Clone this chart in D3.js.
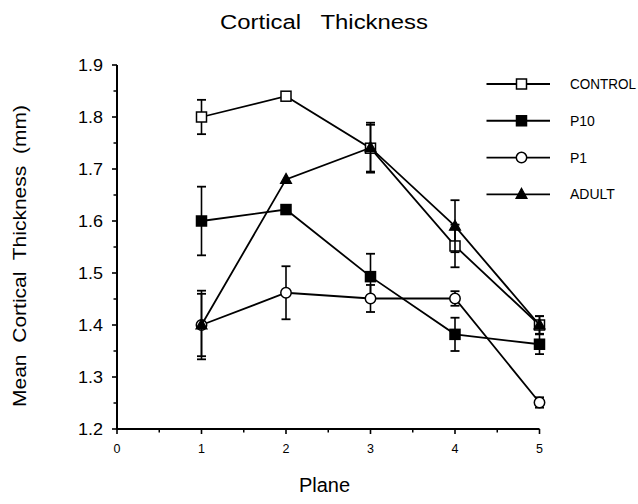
<!DOCTYPE html>
<html>
<head>
<meta charset="utf-8">
<script src="https://cdn.jsdelivr.net/npm/d3@7"></script>
<style>
  html, body { margin: 0; padding: 0; background: #fff; }
  svg { display: block; }
  text { font-family: "Liberation Sans", Arial, Helvetica, sans-serif; fill: #000; white-space: pre; }
</style>
</head>
<body>
<svg id="chart" width="638" height="504" xml:space="preserve"></svg>
<script>
// ---- data ----
const planes = [1, 2, 3, 4, 5];
const seriesNames = ["CONTROL", "P10", "P1", "ADULT"];
const controlValues = [1.80, 1.84, 1.74, 1.552, 1.40];
const controlErrors = [0.033, 0, 0.045, 0.041, 0.017];
const p10Values = [1.60, 1.622, 1.493, 1.382, 1.363];
const p10Errors = [0.066, 0, 0.044, 0.032, 0.019];
const p1Values = [1.40, 1.462, 1.451, 1.451, 1.251];
const p1Errors = [0.06, 0.051, 0.026, 0.014, 0.01];
const adultValues = [1.40, 1.68, 1.741, 1.59, 1.40];
const adultErrors = [0.066, 0, 0.048, 0.05, 0.017];
const xTicks = [0, 1, 2, 3, 4, 5];
const yTicks = [1.2, 1.3, 1.4, 1.5, 1.6, 1.7, 1.8, 1.9];
const titleText = "Cortical   Thickness";
const xLabelText = "Plane";
const yLabelText = "Mean  Cortical  Thickness  (mm)";

const series = [
  { name: seriesNames[0], values: controlValues, errors: controlErrors, shape: "square", filled: false },
  { name: seriesNames[1], values: p10Values, errors: p10Errors, shape: "square", filled: true },
  { name: seriesNames[2], values: p1Values, errors: p1Errors, shape: "circle", filled: false },
  { name: seriesNames[3], values: adultValues, errors: adultErrors, shape: "triangle", filled: true }
];

const svg = d3.select("#chart");
const x = d3.scaleLinear().domain([0, 5]).range([117, 539.5]);
const y = d3.scaleLinear().domain([1.2, 1.9]).range([429, 65]);

// ---- axes ----
const yMinor = d3.range(1.25, 1.9, 0.1);
const xMinor = d3.range(0.5, 5, 1);

const gy = svg.append("g").attr("transform", `translate(${x(0)},0)`);
gy.append("line").attr("x1", 0).attr("x2", 0).attr("y1", y(1.2)).attr("y2", y(1.9))
  .attr("stroke", "#000").attr("stroke-width", 2);
gy.selectAll("line.maj").data(yTicks).join("line").attr("class", "maj")
  .attr("x1", -5).attr("x2", 0).attr("y1", d => y(d)).attr("y2", d => y(d))
  .attr("stroke", "#000").attr("stroke-width", 1.6);
gy.selectAll("line.min").data(yMinor).join("line").attr("class", "min")
  .attr("x1", -3.5).attr("x2", 0).attr("y1", d => y(d)).attr("y2", d => y(d))
  .attr("stroke", "#000").attr("stroke-width", 1.5);
gy.selectAll("text").data(yTicks).join("text")
  .attr("x", -14).attr("y", d => y(d)).attr("dy", "0.38em")
  .attr("text-anchor", "end").attr("font-size", 17)
  .attr("textLength", 25).attr("lengthAdjust", "spacingAndGlyphs")
  .text(d => d.toFixed(1));

const gx = svg.append("g").attr("transform", `translate(0,${y(1.2)})`);
gx.append("line").attr("x1", x(0)).attr("x2", x(5)).attr("y1", 0).attr("y2", 0)
  .attr("stroke", "#000").attr("stroke-width", 2);
gx.selectAll("line.maj").data(xTicks).join("line").attr("class", "maj")
  .attr("x1", d => x(d)).attr("x2", d => x(d)).attr("y1", 0).attr("y2", 5)
  .attr("stroke", "#000").attr("stroke-width", 1.6);
gx.selectAll("line.min").data(xMinor).join("line").attr("class", "min")
  .attr("x1", d => x(d)).attr("x2", d => x(d)).attr("y1", 0).attr("y2", 3.5)
  .attr("stroke", "#000").attr("stroke-width", 1.5);
gx.selectAll("text").data(xTicks).join("text")
  .attr("x", d => x(d)).attr("y", 24)
  .attr("text-anchor", "middle").attr("font-size", 12.5)
  .text(d => d);

// ---- titles ----
svg.append("text").attr("x", 220).attr("y", 28.5)
  .attr("font-size", 20).attr("textLength", 208).attr("lengthAdjust", "spacingAndGlyphs")
  .text(titleText);
svg.append("text").attr("x", 324.5).attr("y", 492)
  .attr("text-anchor", "middle").attr("font-size", 20)
  .text(xLabelText);
svg.append("text").attr("transform", "translate(26,407) rotate(-90)")
  .attr("x", 0).attr("y", 0)
  .attr("font-size", 18.5).attr("textLength", 302).attr("lengthAdjust", "spacingAndGlyphs")
  .text(yLabelText);

// ---- markers ----
function drawMarker(g, s, cx, cy) {
  const fill = s.filled ? "#000" : "#fff";
  if (s.shape === "square") {
    g.append("rect").attr("x", cx - 5).attr("y", cy - 5).attr("width", 10).attr("height", 10)
      .attr("fill", fill).attr("stroke", "#000").attr("stroke-width", 1.5);
  } else if (s.shape === "circle") {
    g.append("circle").attr("cx", cx).attr("cy", cy).attr("r", 5.2)
      .attr("fill", fill).attr("stroke", "#000").attr("stroke-width", 1.5);
  } else {
    g.append("path")
      .attr("d", `M${cx},${cy - 6}L${cx + 5.5},${cy + 4}L${cx - 5.5},${cy + 4}Z`)
      .attr("fill", fill).attr("stroke", "#000").attr("stroke-width", 1.2);
  }
}

const line = d3.line().x(d => x(d.p)).y(d => y(d.v));

series.forEach(s => {
  const pts = planes.map((p, i) => ({ p, v: s.values[i], e: s.errors[i] }));
  const g = svg.append("g");
  // error bars
  pts.filter(d => d.e > 0).forEach(d => {
    const cx = x(d.p), yt = y(d.v + d.e), yb = y(d.v - d.e);
    g.append("line").attr("x1", cx).attr("x2", cx).attr("y1", yt).attr("y2", yb)
      .attr("stroke", "#000").attr("stroke-width", 1.6);
    [yt, yb].forEach(yy => g.append("line")
      .attr("x1", cx - 4.5).attr("x2", cx + 4.5).attr("y1", yy).attr("y2", yy)
      .attr("stroke", "#000").attr("stroke-width", 1.8));
  });
  g.append("path").datum(pts).attr("d", line)
    .attr("fill", "none").attr("stroke", "#000").attr("stroke-width", 1.8);
  pts.forEach(d => drawMarker(g, s, x(d.p), y(d.v)));
});

// ---- legend ----
const legendY = d3.scalePoint().domain(seriesNames).range([84, 194.3]);
const lg = svg.append("g");
series.forEach(s => {
  const ly = legendY(s.name);
  lg.append("line").attr("x1", 486.5).attr("x2", 550).attr("y1", ly).attr("y2", ly)
    .attr("stroke", "#000").attr("stroke-width", 1.8);
  drawMarker(lg, s, 521.5, ly);
  const t = lg.append("text").attr("x", 570).attr("y", ly).attr("dy", "0.36em")
    .attr("font-size", 14).text(s.name);
  if (s.name === "CONTROL") t.attr("textLength", 66).attr("lengthAdjust", "spacingAndGlyphs");
});
</script>
</body>
</html>
